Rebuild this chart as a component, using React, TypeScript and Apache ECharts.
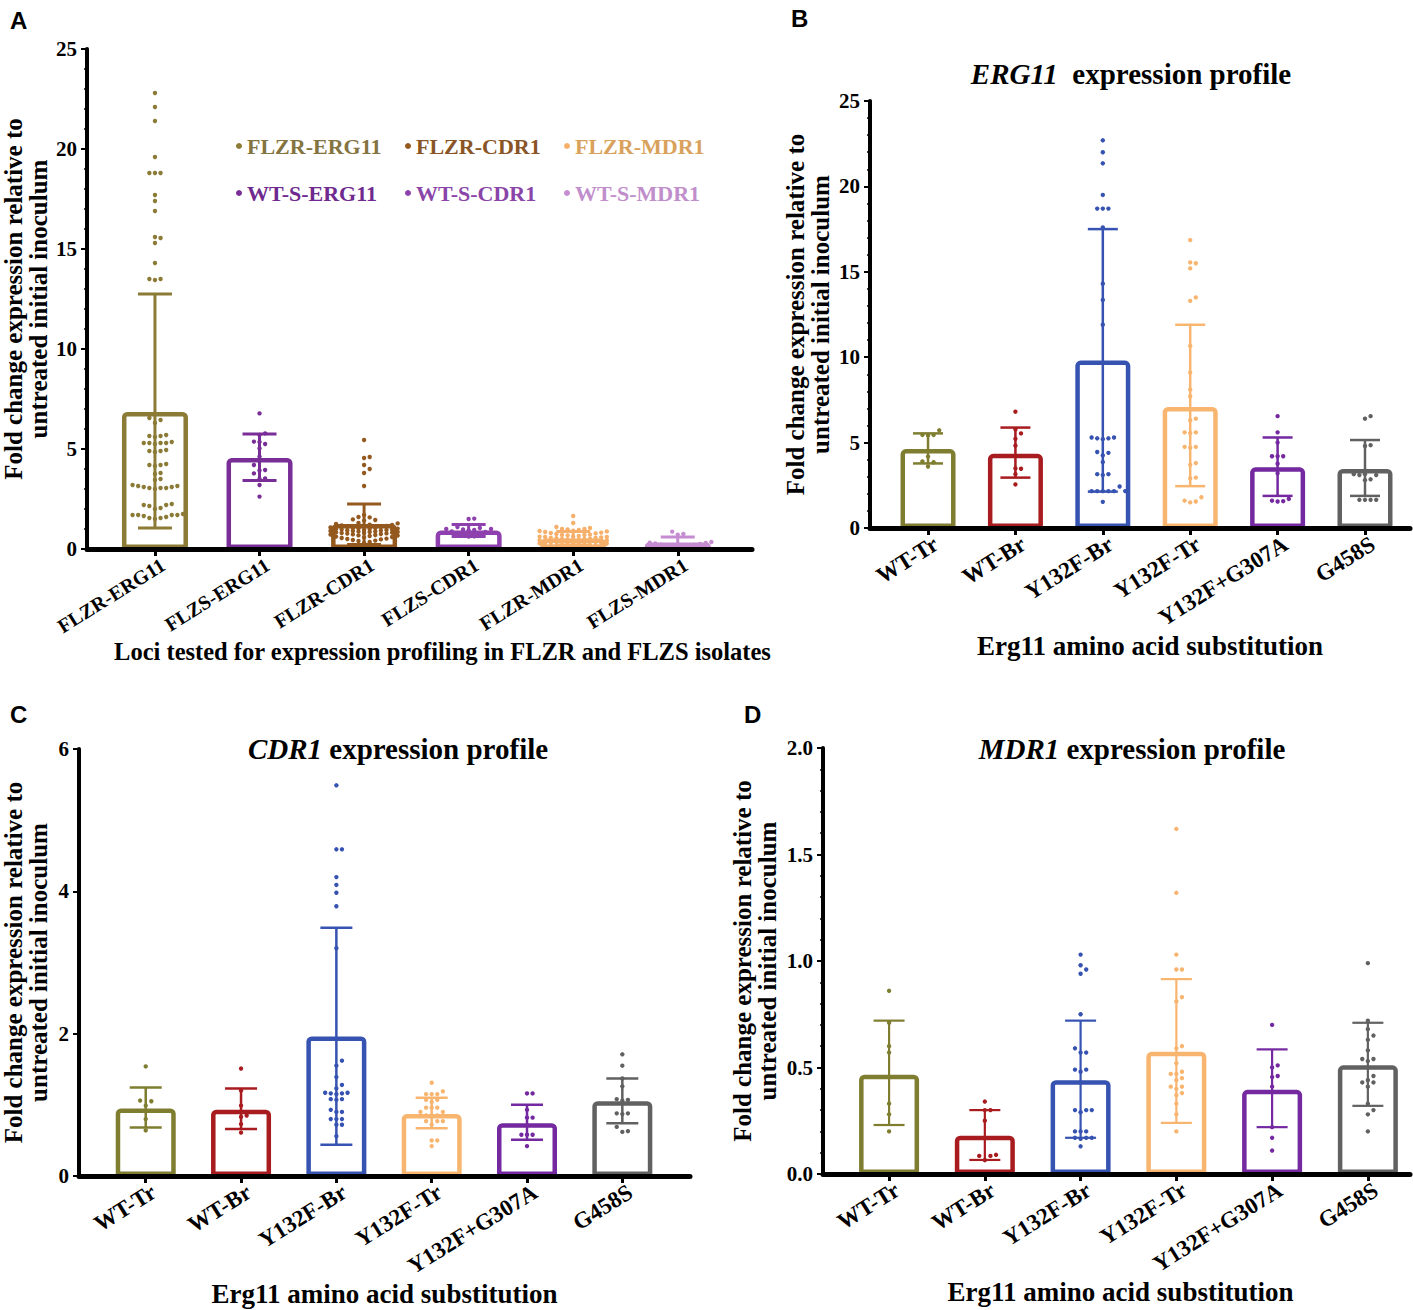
import React, { useEffect, useRef } from 'react';
import * as echarts from 'echarts';

const SERIF = '"Liberation Serif", "Times New Roman", serif';
const SANS = '"Liberation Sans", Arial, sans-serif';

// ---------- Panel A ----------
const catsA = ['FLZR-ERG11', 'FLZS-ERG11', 'FLZR-CDR1', 'FLZS-CDR1', 'FLZR-MDR1', 'FLZS-MDR1'];
const legendNamesA = ['FLZR-ERG11', 'WT-S-ERG11', 'FLZR-CDR1', 'WT-S-CDR1', 'FLZR-MDR1', 'WT-S-MDR1'];
const colorsA = ['#8B7B36', '#782D97', '#94591E', '#8E40AE', '#F6B06B', '#C68CD1'];
const legendTextColorsA = ['#847440', '#6E2A8E', '#8A5526', '#8A45A8', '#D9A25C', '#C18ECC'];
const meanA = [6.85, 4.55, 1.25, 0.93, 0.53, 0.32];
const hiA = [12.75, 5.75, 2.25, 1.23, 0.88, 0.6];
const loA = [1.05, 3.42, 0.23, 0.62, 0.2, 0.04];
const dotsA_FLZR_ERG11 = [22.8, 22.1, 21.4, 19.6, 18.8, 18.8, 18.8, 17.7, 17.4, 16.9, 15.6, 15.55, 15.3, 14.3, 13.5, 13.45, 13.5,
  6.55, 6.45, 6.3, 5.7, 5.65, 5.65, 5.6, 5.35, 5.3, 5.3, 5.3, 5.25, 5.3, 4.95, 4.9, 4.9, 4.85, 4.25, 4.2, 4.2, 4.15, 3.8, 3.75,
  3.5, 3.45, 3.2, 3.15, 3.15, 3.1, 3.05, 3.05, 3.1, 3.0, 3.05, 2.25, 2.2, 2.2, 2.15, 2.05, 2.0, 1.75, 1.7, 1.7, 1.7, 1.65, 1.7,
  1.6, 1.55, 1.55, 1.5];
const dotsA_FLZS_ERG11 = [6.78, 5.78, 5.7, 5.37, 5.35, 5.25, 5.03, 4.62, 4.2, 3.95, 3.93, 3.78, 3.53, 3.5, 3.2, 2.62];
const dotsA_FLZR_CDR1 = [5.45, 4.6, 4.55, 4.2, 4.0, 3.8, 3.15, 1.7, 1.6, 1.58, 1.48, 1.45, 1.42, 1.3, 1.28, 1.25, 1.22, 1.2,
  1.18, 1.15, 1.12, 1.1, 1.1, 1.08, 1.05, 1.05, 1.03, 1.02, 1.0, 1.0, 0.98, 0.97, 0.95, 0.95, 0.93, 0.92, 0.9, 0.9, 0.88, 0.87,
  0.85, 0.85, 0.83, 0.82, 0.8, 0.8, 0.78, 0.77, 0.75, 0.73, 0.72, 0.7, 0.68, 0.67, 0.65, 0.62, 0.6, 0.58, 0.55, 0.52, 0.5,
  0.48, 0.45, 0.42, 0.4, 0.35, 0.3];
const dotsA_FLZS_CDR1 = [1.52, 1.5, 1.1, 1.05, 1.0, 1.0, 0.98, 0.95, 0.93, 0.88, 0.85, 0.8, 0.75, 0.68, 0.63, 0.62];
const dotsA_FLZR_MDR1 = [1.65, 1.3, 1.1, 1.05, 1.0, 1.0, 0.98, 0.95, 0.92, 0.9, 0.88, 0.85, 0.82, 0.8, 0.78, 0.75, 0.72, 0.7,
  0.7, 0.68, 0.65, 0.63, 0.62, 0.6, 0.6, 0.58, 0.56, 0.55, 0.54, 0.52, 0.5, 0.5, 0.48, 0.47, 0.45, 0.44, 0.43, 0.42, 0.4, 0.4,
  0.38, 0.37, 0.35, 0.34, 0.33, 0.32, 0.3, 0.3, 0.28, 0.27, 0.25, 0.24, 0.22, 0.2, 0.2, 0.18, 0.16, 0.15, 0.13, 0.12, 0.1];
const dotsA_FLZS_MDR1 = [0.87, 0.75, 0.72, 0.35, 0.32, 0.3, 0.28, 0.25, 0.22, 0.2, 0.18, 0.15, 0.12, 0.1, 0.08];
const dotsA = [dotsA_FLZR_ERG11, dotsA_FLZS_ERG11, dotsA_FLZR_CDR1, dotsA_FLZS_CDR1, dotsA_FLZR_MDR1, dotsA_FLZS_MDR1];

// ---------- Panels B, C, D ----------
const catsSub = ['WT-Tr', 'WT-Br', 'Y132F-Br', 'Y132F-Tr', 'Y132F+G307A', 'G458S'];
const colorsSub = ['#7F7D30', '#A81B1E', '#3753B2', '#F8B570', '#7429A0', '#616161'];

const meanB = [4.62, 4.34, 9.8, 7.08, 3.55, 3.45];
const hiB = [5.54, 5.88, 17.5, 11.9, 5.3, 5.15];
const loB = [3.78, 2.95, 2.13, 2.45, 1.88, 1.88];
const dotsB_WTTr = [5.72, 5.45, 5.42, 5.45, 4.18, 3.9, 3.85, 3.6];
const dotsB_WTBr = [6.81, 5.78, 5.54, 5.22, 4.82, 3.49, 3.47, 3.15, 2.55];
const dotsB_Y132FBr = [22.7, 22.0, 21.35, 19.5, 18.7, 18.7, 18.7, 17.6, 14.3, 13.35, 11.9, 5.3, 5.25, 5.3, 5.25, 5.2, 4.45,
  4.4, 4.25, 3.86, 3.15, 3.1, 3.15, 2.43, 2.16, 2.16, 2.16, 2.16, 2.16, 2.16, 1.53];
const dotsB_Y132FTr = [16.86, 15.5, 15.55, 15.2, 13.5, 13.3, 10.66, 9.1, 8.1, 7.7, 6.4, 6.3, 5.6, 5.55, 5.6, 4.75, 4.7, 4.75,
  3.8, 3.7, 2.95, 2.9, 1.8, 1.55, 1.5, 1.6];
const dotsB_Y132FG307A = [6.55, 5.6, 5.0, 4.2, 4.2, 4.2, 3.76, 3.2, 1.7, 1.57, 1.55, 1.6];
const dotsB_G458S = [6.55, 6.4, 4.85, 4.8, 3.15, 3.1, 3.15, 3.1, 2.85, 2.8, 1.65, 1.65, 1.65, 1.65];
const dotsB = [dotsB_WTTr, dotsB_WTBr, dotsB_Y132FBr, dotsB_Y132FTr, dotsB_Y132FG307A, dotsB_G458S];

const meanC = [0.95, 0.93, 1.96, 0.87, 0.74, 1.05];
const hiC = [1.245, 1.23, 3.49, 1.1, 1.0, 1.37];
const loC = [0.68, 0.66, 0.44, 0.67, 0.51, 0.74];
const dotsC_WTTr = [1.54, 1.06, 1.05, 0.99, 0.8, 0.64];
const dotsC_WTBr = [1.51, 1.2, 0.99, 0.85, 0.83, 0.73, 0.61];
const dotsC_Y132FBr = [5.49, 4.59, 4.59, 4.2, 4.09, 3.98, 3.79, 3.2, 1.62, 1.55, 1.39, 1.28, 1.23, 1.17, 1.16, 1.15, 1.16,
  1.17, 1.08, 1.08, 1.07, 0.93, 0.9, 0.9, 0.8, 0.8, 0.8, 0.72, 0.72, 0.56];
const dotsC_Y132FTr = [1.31, 1.19, 1.15, 1.15, 1.15, 1.07, 1.07, 1.04, 0.96, 0.96, 0.96, 0.9, 0.9, 0.85, 0.85, 0.85, 0.77,
  0.77, 0.77, 0.72, 0.5, 0.5, 0.42];
const dotsC_Y132FG307A = [1.16, 1.16, 0.93, 0.82, 0.82, 0.58, 0.58, 0.58, 0.42];
const dotsC_G458S = [1.71, 1.55, 1.37, 1.26, 1.08, 1.07, 1.06, 0.88, 0.88, 0.87, 0.69, 0.63, 0.62];
const dotsC = [dotsC_WTTr, dotsC_WTBr, dotsC_Y132FBr, dotsC_Y132FTr, dotsC_Y132FG307A, dotsC_G458S];

const meanD = [0.466, 0.18, 0.44, 0.574, 0.395, 0.51];
const hiD = [0.72, 0.3, 0.72, 0.915, 0.585, 0.71];
const loD = [0.23, 0.066, 0.17, 0.24, 0.22, 0.32];
const dotsD_WTTr = [0.86, 0.71, 0.6, 0.57, 0.33, 0.28, 0.2];
const dotsD_WTBr = [0.34, 0.3, 0.3, 0.25, 0.09, 0.085, 0.085, 0.065];
const dotsD_Y132FBr = [1.03, 0.98, 0.96, 0.94, 0.75, 0.59, 0.57, 0.57, 0.49, 0.49, 0.48, 0.43, 0.3, 0.3, 0.3, 0.29, 0.2, 0.2,
  0.2, 0.17, 0.17, 0.165, 0.17, 0.13];
const dotsD_Y132FTr = [1.62, 1.32, 1.03, 0.96, 0.96, 0.83, 0.81, 0.6, 0.59, 0.52, 0.48, 0.47, 0.47, 0.45, 0.44, 0.41, 0.41,
  0.4, 0.38, 0.37, 0.33, 0.28, 0.2];
const dotsD_Y132FG307A = [0.7, 0.51, 0.5, 0.46, 0.455, 0.41, 0.22, 0.17, 0.11];
const dotsD_G458S = [0.99, 0.72, 0.68, 0.65, 0.63, 0.58, 0.54, 0.54, 0.53, 0.46, 0.44, 0.43, 0.43, 0.41, 0.33, 0.3, 0.28, 0.2];
const dotsD = [dotsD_WTTr, dotsD_WTBr, dotsD_Y132FBr, dotsD_Y132FTr, dotsD_Y132FG307A, dotsD_G458S];

const yTitle = 'Fold change expression relative to\nuntreated initial inoculum';
const xTitleA = 'Loci tested for expression profiling in FLZR and FLZS isolates';
const xTitleSub = 'Erg11 amino acid substitution';

// beeswarm layout: horizontal slot for each dot so that dots do not overlap
function swarm(values: number[], pxPerUnit: number, d: number, maxSlot: number): number[] {
  const order = values.map((_, i) => i).sort((a, b) => values[a] - values[b]);
  const placed: { x: number; y: number }[] = [];
  const slots = new Array(values.length).fill(0);
  for (const i of order) {
    const y = values[i] * pxPerUnit;
    let best = 0;
    let bestScore = -Infinity;
    for (let k = 0; k <= 2 * maxSlot; k++) {
      const s = k === 0 ? 0 : k % 2 === 1 ? (k + 1) / 2 : -k / 2;
      const x = s * d;
      let minDist = Infinity;
      for (const p of placed) {
        const dd = Math.hypot(p.x - x, p.y - y);
        if (dd < minDist) minDist = dd;
      }
      if (minDist >= d) {
        best = s;
        break;
      }
      if (minDist > bestScore + 0.01) {
        bestScore = minDist;
        best = s;
      }
    }
    slots[i] = best;
    placed.push({ x: best * d, y });
  }
  return slots;
}

interface PanelCfg {
  left: number; top: number; width: number; height: number;
  xMin: number; xMax: number; yMax: number; yInterval: number; yMinor: number; yDecimals: number;
  cats: string[]; colors: string[]; means: number[]; hi: number[]; lo: number[]; dots: number[][];
  dotNames?: string[];
  barWidth: number; capW: number; errW: number; labelSize: number;
  yNameGap: number; xNameGap: number; xName: string; xNamePadLeft: number; xNameSize: number;
}

const panels: PanelCfg[] = [
  {
    left: 87, top: 49, width: 665, height: 500, xMin: -0.65, xMax: 5.71, yMax: 25, yInterval: 5, yMinor: 5, yDecimals: 0,
    cats: catsA, colors: colorsA, means: meanA, hi: hiA, lo: loA, dots: dotsA, dotNames: legendNamesA,
    barWidth: 66, capW: 34, errW: 3, labelSize: 20, yNameGap: 36, xNameGap: 89, xName: xTitleA, xNamePadLeft: 46, xNameSize: 24.5,
  },
  {
    left: 870, top: 101, width: 540, height: 427, xMin: -0.664, xMax: 5.515, yMax: 25, yInterval: 5, yMinor: 5, yDecimals: 0,
    cats: catsSub, colors: colorsSub, means: meanB, hi: hiB, lo: loB, dots: dotsB,
    barWidth: 55, capW: 30, errW: 2.5, labelSize: 23, yNameGap: 37, xNameGap: 103, xName: xTitleSub, xNamePadLeft: 20, xNameSize: 27,
  },
  {
    left: 78, top: 749, width: 612, height: 427, xMin: -0.7, xMax: 5.71, yMax: 6, yInterval: 2, yMinor: 0, yDecimals: 0,
    cats: catsSub, colors: colorsSub, means: meanC, hi: hiC, lo: loC, dots: dotsC,
    barWidth: 60, capW: 32, errW: 2.5, labelSize: 23, yNameGap: 28, xNameGap: 102, xName: xTitleSub, xNamePadLeft: 0, xNameSize: 27,
  },
  {
    left: 823, top: 748, width: 587, height: 426, xMin: -0.69, xMax: 5.44, yMax: 2, yInterval: 0.5, yMinor: 5, yDecimals: 1,
    cats: catsSub, colors: colorsSub, means: meanD, hi: hiD, lo: loD, dots: dotsD,
    barWidth: 60, capW: 31, errW: 2.2, labelSize: 23, yNameGap: 43, xNameGap: 104, xName: xTitleSub, xNamePadLeft: 8, xNameSize: 27,
  },
];

const DOT_STEP = 5.6;
const DOT_R = 2.2;
const LABEL_SHIFT_PX = 8;

function buildOption() {
  const grid: any[] = [];
  const xAxis: any[] = [];
  const yAxis: any[] = [];
  const series: any[] = [];
  const tickIdx = [0, 1, 2, 3, 4, 5];

  panels.forEach((p, pi) => {
    const pxPerCat = p.width / (p.xMax - p.xMin);
    const shift = LABEL_SHIFT_PX / pxPerCat;
    grid.push({ left: p.left, top: p.top, width: p.width, height: p.height, containLabel: false });
    xAxis.push({
      type: 'value', gridIndex: pi, min: p.xMin, max: p.xMax, z: 5,
      axisLine: { show: true, onZero: false, lineStyle: { color: '#000', width: 5 } },
      axisTick: { show: true, customValues: tickIdx, length: 7, lineStyle: { color: '#000', width: 3 } },
      axisLabel: {
        show: true, customValues: tickIdx.map((t) => t + shift), formatter: (v: number) => p.cats[Math.round(v)] || '',
        rotate: 32, margin: 14, fontSize: p.labelSize, fontWeight: 'bold', fontFamily: SERIF, color: '#000',
      },
      splitLine: { show: false },
      name: p.xName, nameLocation: 'middle', nameGap: p.xNameGap,
      nameTextStyle: { fontSize: p.xNameSize, fontWeight: 'bold', fontFamily: SERIF, color: '#000', padding: [0, 0, 0, p.xNamePadLeft] },
    });
    yAxis.push({
      type: 'value', gridIndex: pi, min: 0, max: p.yMax, interval: p.yInterval, z: 5,
      axisLine: { show: true, onZero: false, lineStyle: { color: '#000', width: 4 } },
      axisTick: { show: true, length: 6, lineStyle: { color: '#000', width: 2 } },
      minorTick: { show: p.yMinor > 0, splitNumber: p.yMinor, length: 3, lineStyle: { color: '#000', width: 1.5 } },
      axisLabel: {
        margin: 10, fontSize: 21, fontWeight: 'bold', fontFamily: SERIF, color: '#000',
        formatter: (v: number) => v.toFixed(p.yDecimals),
      },
      splitLine: { show: false },
      name: yTitle, nameLocation: 'middle', nameGap: p.yNameGap,
      nameTextStyle: { fontSize: 25, lineHeight: 25, fontWeight: 'bold', fontFamily: SERIF, color: '#000' },
    });

    // hollow bars (means)
    series.push({
      type: 'bar', xAxisIndex: pi, yAxisIndex: pi, barWidth: p.barWidth, z: 2, silent: true,
      data: p.means.map((m, i) => ({
        value: [i, m],
        itemStyle: { color: 'rgba(255,255,255,0)', borderColor: p.colors[i], borderWidth: 4.5, borderRadius: [3, 3, 0, 0] },
      })),
    });

    // individual dots
    const pxPerUnit = p.height / p.yMax;
    const dotItems = (ci: number) => {
      const slots = swarm(p.dots[ci], pxPerUnit, DOT_STEP, 6);
      return p.dots[ci].map((v, k) => [ci, v, slots[k]]);
    };
    const dotRender = (color: string | null) => (params: any, api: any) => {
      const c = api.coord([api.value(0), api.value(1)]);
      const col = color || p.colors[api.value(0)];
      return { type: 'circle', shape: { cx: c[0] + api.value(2) * DOT_STEP, cy: c[1], r: DOT_R }, style: { fill: col } };
    };
    if (p.dotNames) {
      p.dots.forEach((_, ci) => {
        series.push({
          type: 'custom', name: p.dotNames![ci], xAxisIndex: pi, yAxisIndex: pi, z: 3, silent: true,
          itemStyle: { color: p.colors[ci] },
          encode: { x: 0, y: 1 },
          data: dotItems(ci),
          renderItem: dotRender(p.colors[ci]),
        });
      });
    } else {
      const all: number[][] = [];
      p.dots.forEach((_, ci) => all.push(...dotItems(ci)));
      series.push({
        type: 'custom', xAxisIndex: pi, yAxisIndex: pi, z: 3, silent: true,
        encode: { x: 0, y: 1 }, data: all, renderItem: dotRender(null),
      });
    }

    // error bars (SD)
    series.push({
      type: 'custom', xAxisIndex: pi, yAxisIndex: pi, z: 4, silent: true,
      encode: { x: 0, y: [1, 2] },
      data: p.means.map((_, i) => [i, p.hi[i], p.lo[i]]),
      renderItem: (params: any, api: any) => {
        const i = api.value(0);
        const t = api.coord([i, api.value(1)]);
        const b = api.coord([i, api.value(2)]);
        const st = { stroke: p.colors[i], lineWidth: p.errW };
        const hw = p.capW / 2;
        return {
          type: 'group',
          children: [
            { type: 'line', shape: { x1: t[0], y1: t[1], x2: b[0], y2: b[1] }, style: st },
            { type: 'line', shape: { x1: t[0] - hw, y1: t[1], x2: t[0] + hw, y2: t[1] }, style: st },
            { type: 'line', shape: { x1: b[0] - hw, y1: b[1], x2: b[0] + hw, y2: b[1] }, style: st },
          ],
        };
      },
    });
  });

  const legendPos = [
    [236, 135], [236, 182], [405, 135], [405, 182], [564, 135], [564, 182],
  ];
  const legend = legendNamesA.map((name, i) => ({
    data: [name], left: legendPos[i][0], top: legendPos[i][1], icon: 'circle', itemWidth: 6, itemHeight: 6,
    selectedMode: false, padding: 0,
    textStyle: { color: legendTextColorsA[i], fontSize: 22, fontWeight: 'bold', fontFamily: SERIF },
  }));

  const letterStyle = { fontFamily: SANS, fontWeight: 'bold', fontSize: 24, color: '#000' };
  const tStyle = {
    rich: {
      i: { fontStyle: 'italic', fontWeight: 'bold', fontSize: 29, fontFamily: SERIF, color: '#000' },
      n: { fontWeight: 'bold', fontSize: 29, fontFamily: SERIF, color: '#000' },
    },
  };
  const title = [
    { text: 'A', left: 5, top: 3, textStyle: letterStyle },
    { text: 'B', left: 786, top: 1, textStyle: letterStyle },
    { text: 'C', left: 5, top: 697, textStyle: letterStyle },
    { text: 'D', left: 739, top: 697, textStyle: letterStyle },
    { text: '{i|ERG11}{n|  expression profile}', left: 1126, top: 54, textAlign: 'center', textStyle: tStyle },
    { text: '{i|CDR1}{n| expression profile}', left: 393, top: 729, textAlign: 'center', textStyle: tStyle },
    { text: '{i|MDR1}{n| expression profile}', left: 1127, top: 729, textAlign: 'center', textStyle: tStyle },
  ];

  return { animation: false, backgroundColor: '#fff', title, legend, grid, xAxis, yAxis, series };
}

export default function App() {
  const ref = useRef<HTMLDivElement>(null);
  useEffect(() => {
    document.body.style.margin = '0';
    if (!ref.current) return;
    const chart = echarts.init(ref.current, undefined, { renderer: 'svg' });
    chart.setOption(buildOption() as any);
    return () => chart.dispose();
  }, []);
  return <div ref={ref} style={{ width: 1413, height: 1310 }} />;
}
